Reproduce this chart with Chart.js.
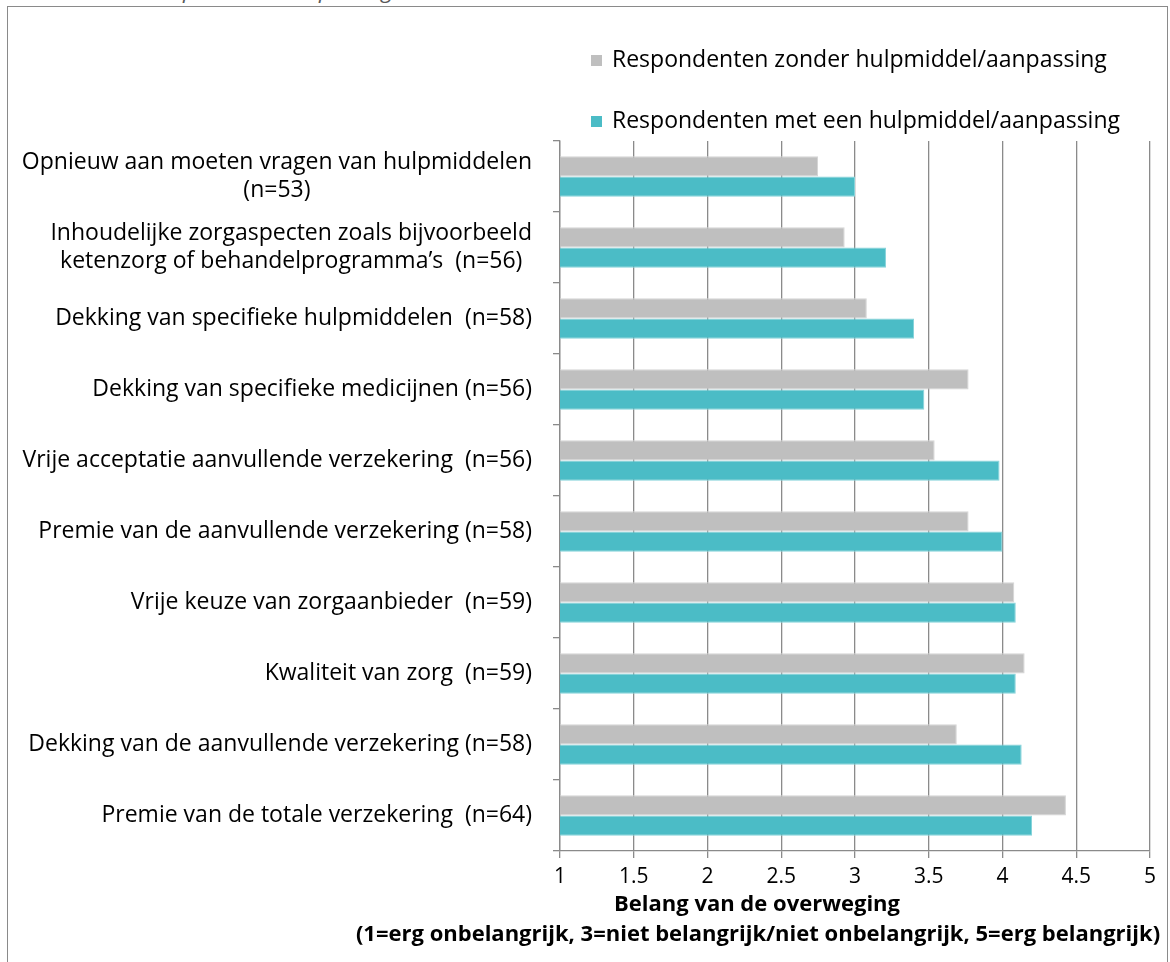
<!DOCTYPE html>
<html>
<head>
<meta charset="utf-8">
<script src="https://cdn.jsdelivr.net/npm/chart.js@4"></script>
<style>
html, body { margin: 0; padding: 0; background: #fff; overflow: hidden; }
#wrap { position: relative; width: 1170px; height: 962px; overflow: hidden; }
#cut { position: absolute; left: 152px; top: -26px; font: italic 22px "Open Sans", sans-serif; color: #595959; white-space: pre; }
#frame { position: absolute; left: 7px; top: 6px; width: 1161px; height: 1000px; border: 1.5px solid #8a8a8a; box-sizing: border-box; }
canvas { position: absolute; left: 0; top: 0; }
</style>
</head>
<body>
<div id="wrap">
  <div id="cut">hulpmiddel / aanpassing</div>
  <div id="frame"></div>
  <canvas id="chart" width="1170" height="962"></canvas>
</div>
<script>
const FONT = '"Open Sans", sans-serif';

const categories = [
    ['Opnieuw aan moeten vragen van hulpmiddelen', '(n=53)'],
    ['Inhoudelijke zorgaspecten zoals bijvoorbeeld', 'ketenzorg of behandelprogramma\u2019s  (n=56)'],
    'Dekking van specifieke hulpmiddelen  (n=58)',
    'Dekking van specifieke medicijnen (n=56)',
    'Vrije acceptatie aanvullende verzekering  (n=56)',
    'Premie van de aanvullende verzekering (n=58)',
    'Vrije keuze van zorgaanbieder  (n=59)',
    'Kwaliteit van zorg  (n=59)',
    'Dekking van de aanvullende verzekering (n=58)',
    'Premie van de totale verzekering  (n=64)'
];
const zonderHulpmiddel = [2.75, 2.93, 3.08, 3.77, 3.54, 3.77, 4.08, 4.15, 3.69, 4.43];
const metHulpmiddel = [3.00, 3.21, 3.40, 3.47, 3.98, 4.00, 4.09, 4.09, 4.13, 4.20];
const seriesNames = ['Respondenten zonder hulpmiddel/aanpassing', 'Respondenten met een hulpmiddel/aanpassing'];
const xTickLabels = ['1', '1.5', '2', '2.5', '3', '3.5', '4', '4.5', '5'];
const xTitle = ['Belang van de overweging', '(1=erg onbelangrijk, 3=niet belangrijk/niet onbelangrijk, 5=erg belangrijk)'];

const GRID = '#8a8a8a';

// category labels: block right-aligned, lines centred inside the block (like Excel)
const yLabels = {
    id: 'yLabels',
    afterDraw(chart) {
        const ctx = chart.ctx;
        const y = chart.scales.y;
        const right = chart.chartArea.left - 28;
        ctx.save();
        ctx.font = '23px ' + FONT;
        ctx.fillStyle = '#000';
        ctx.textBaseline = 'middle';
        ctx.textAlign = 'center';
        chart.data.labels.forEach((lab, i) => {
            const lines = Array.isArray(lab) ? lab : [lab];
            const w = Math.max(...lines.map(l => ctx.measureText(l).width));
            const cy = y.getPixelForTick(i);
            lines.forEach((l, j) => {
                ctx.fillText(l, right - w / 2, cy + (j - (lines.length - 1) / 2) * 28);
            });
        });
        ctx.restore();
    }
};

// legend stacked at top right, plus two-line axis title
const extras = {
    id: 'extras',
    afterDraw(chart) {
        const ctx = chart.ctx;
        const area = chart.chartArea;
        ctx.save();
        ctx.font = '23px ' + FONT;
        ctx.textBaseline = 'middle';
        ctx.textAlign = 'left';
        chart.data.datasets.forEach((ds, i) => {
            const cy = area.top - 81 + i * 61;
            ctx.fillStyle = ds.backgroundColor;
            ctx.fillRect(area.left + 31, cy - 5, 11, 11);
            ctx.fillStyle = '#000';
            ctx.fillText(ds.label, area.left + 52, cy);
        });
        ctx.font = 'bold 22px ' + FONT;
        ctx.textAlign = 'center';
        ctx.fillText(xTitle[0], area.left + 197, area.bottom + 54);
        ctx.fillText(xTitle[1], area.left + 198, area.bottom + 84);
        ctx.restore();
    }
};

const ctx = document.getElementById('chart').getContext('2d');

const chart = new Chart(ctx, {
    type: 'bar',
    data: {
        labels: categories,
        datasets: [{
            label: seriesNames[0],
            data: zonderHulpmiddel,
            backgroundColor: '#bfbfbf',
            borderColor: '#d4d4d4',
            borderWidth: 1
        }, {
            label: seriesNames[1],
            data: metHulpmiddel,
            backgroundColor: '#4bbcc6',
            borderColor: '#86d3da',
            borderWidth: 1
        }]
    },
    options: {
        indexAxis: 'y',
        responsive: false,
        animation: false,
        events: [],
        layout: { padding: { top: 141, right: 20, left: 0, bottom: 0 } },
        datasets: {
            bar: { categoryPercentage: 0.57, barPercentage: 1.0 }
        },
        plugins: {
            legend: { display: false },
            tooltip: { enabled: false }
        },
        scales: {
            x: {
                min: 1,
                max: 5,
                afterFit(scale) { scale.height = 111; },
                ticks: {
                    stepSize: 0.5,
                    padding: 6,
                    color: '#000',
                    font: { family: FONT, size: 21 },
                    callback: (v, i) => xTickLabels[i]
                },
                grid: { color: GRID, lineWidth: 1.3, tickLength: 7 },
                border: { color: GRID, width: 1.3 }
            },
            y: {
                afterFit(scale) { scale.width = 560; },
                ticks: { display: false },
                grid: { offset: true, drawOnChartArea: false, color: GRID, lineWidth: 1.3, tickLength: 7 },
                border: { color: GRID, width: 1.3 }
            }
        }
    },
    plugins: [yLabels, extras]
});
</script>
</body>
</html>
